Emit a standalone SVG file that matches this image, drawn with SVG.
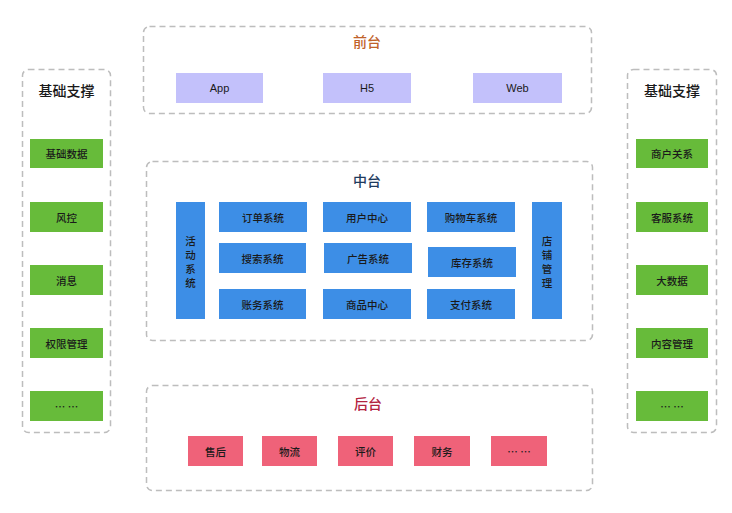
<svg xmlns="http://www.w3.org/2000/svg" width="732" height="513" viewBox="0 0 732 513">
<style>
.frame{fill:none;stroke:#bdbdbd;stroke-width:1.5;stroke-dasharray:6 4}
.t{font-family:"Noto Sans CJK SC","Liberation Sans",sans-serif;text-anchor:middle;dominant-baseline:central}
.title{font-size:14px;font-weight:500}
.lbl{font-size:10.5px;fill:#1a1a1a;font-weight:500}
.lat{font-family:"Liberation Sans","Noto Sans CJK SC",sans-serif;font-size:11px;fill:#1a1a1a}
.pur{fill:#c3c1fb}
.blu{fill:#3d8ee6}
.grn{fill:#67bb3a}
.pnk{fill:#ef6279}
</style>
<rect width="732" height="513" fill="#ffffff"/>
<g id="frontend">
<rect class="frame" x="143.5" y="26.5" width="448" height="87" rx="6"/>
<text class="t title" x="367" y="41" fill="#c0622a">前台</text>
<g id="app"><rect class="pur" x="176" y="73" width="87" height="30"/><text class="t lat" x="219.5" y="88">App</text></g>
<g id="h5"><rect class="pur" x="323" y="73" width="88" height="30"/><text class="t lat" x="367" y="88">H5</text></g>
<g id="web"><rect class="pur" x="473" y="73" width="89" height="30"/><text class="t lat" x="517.5" y="88">Web</text></g>
</g>
<g id="middle">
<rect class="frame" x="146.5" y="161.5" width="446" height="179" rx="6"/>
<text class="t title" x="367" y="180" fill="#1f3b5e">中台</text>
<g id="huodong"><rect class="blu" x="176" y="202" width="29" height="117"/>
<text class="t lbl" x="190.5" y="240">活</text><text class="t lbl" x="190.5" y="254">动</text><text class="t lbl" x="190.5" y="268">系</text><text class="t lbl" x="190.5" y="282">统</text></g>
<g id="dingdan"><rect class="blu" x="219" y="202" width="88" height="30"/><text class="t lbl" x="263" y="217">订单系统</text></g>
<g id="yonghu"><rect class="blu" x="323" y="202" width="88" height="30"/><text class="t lbl" x="367" y="217">用户中心</text></g>
<g id="gouwuche"><rect class="blu" x="427" y="202" width="88" height="30"/><text class="t lbl" x="471" y="217">购物车系统</text></g>
<g id="dianpu"><rect class="blu" x="532" y="202" width="30" height="117"/>
<text class="t lbl" x="547" y="240">店</text><text class="t lbl" x="547" y="254">铺</text><text class="t lbl" x="547" y="268">管</text><text class="t lbl" x="547" y="282">理</text></g>
<g id="sousuo"><rect class="blu" x="219" y="243" width="87" height="30"/><text class="t lbl" x="262.5" y="258">搜索系统</text></g>
<g id="guanggao"><rect class="blu" x="324" y="243" width="88" height="30"/><text class="t lbl" x="368" y="258">广告系统</text></g>
<g id="kucun"><rect class="blu" x="428" y="247" width="88" height="30"/><text class="t lbl" x="472" y="262">库存系统</text></g>
<g id="zhangwu"><rect class="blu" x="219" y="289" width="87" height="30"/><text class="t lbl" x="262.5" y="304">账务系统</text></g>
<g id="shangpin"><rect class="blu" x="323" y="289" width="88" height="30"/><text class="t lbl" x="367" y="304">商品中心</text></g>
<g id="zhifu"><rect class="blu" x="427" y="289" width="88" height="30"/><text class="t lbl" x="471" y="304">支付系统</text></g>
</g>
<g id="backend">
<rect class="frame" x="146.5" y="385.5" width="446" height="105" rx="6"/>
<text class="t title" x="368" y="403" fill="#b3223f">后台</text>
<g id="shouhou"><rect class="pnk" x="188" y="436" width="55" height="30"/><text class="t lbl" x="215.5" y="451">售后</text></g>
<g id="wuliu"><rect class="pnk" x="262" y="436" width="55" height="30"/><text class="t lbl" x="289.5" y="451">物流</text></g>
<g id="pingjia"><rect class="pnk" x="338" y="436" width="55" height="30"/><text class="t lbl" x="365.5" y="451">评价</text></g>
<g id="caiwu"><rect class="pnk" x="414" y="436" width="56" height="30"/><text class="t lbl" x="442" y="451">财务</text></g>
<g id="more-back"><rect class="pnk" x="491" y="436" width="56" height="30"/><text class="t lbl" x="519" y="451">… …</text></g>
</g>
<g id="left-support">
<rect class="frame" x="22.5" y="69.5" width="88" height="363" rx="6"/>
<text class="t title" x="66.5" y="90" fill="#1a1a1a">基础支撑</text>
<g id="jichushuju"><rect class="grn" x="30" y="139" width="73" height="29"/><text class="t lbl" x="66.5" y="153.5">基础数据</text></g>
<g id="fengkong"><rect class="grn" x="30" y="202" width="73" height="30"/><text class="t lbl" x="66.5" y="217">风控</text></g>
<g id="xiaoxi"><rect class="grn" x="30" y="265" width="73" height="30"/><text class="t lbl" x="66.5" y="280">消息</text></g>
<g id="quanxian"><rect class="grn" x="30" y="328" width="73" height="30"/><text class="t lbl" x="66.5" y="343">权限管理</text></g>
<g id="more-left"><rect class="grn" x="30" y="391" width="73" height="30"/><text class="t lbl" x="66.5" y="406">… …</text></g>
</g>
<g id="right-support">
<rect class="frame" x="627.5" y="69.5" width="89" height="363" rx="6"/>
<text class="t title" x="672" y="90" fill="#1a1a1a">基础支撑</text>
<g id="shanghu"><rect class="grn" x="636" y="139" width="72" height="29"/><text class="t lbl" x="672" y="153.5">商户关系</text></g>
<g id="kefu"><rect class="grn" x="636" y="202" width="72" height="30"/><text class="t lbl" x="672" y="217">客服系统</text></g>
<g id="dashuju"><rect class="grn" x="636" y="265" width="72" height="30"/><text class="t lbl" x="672" y="280">大数据</text></g>
<g id="neirong"><rect class="grn" x="636" y="328" width="72" height="30"/><text class="t lbl" x="672" y="343">内容管理</text></g>
<g id="more-right"><rect class="grn" x="636" y="391" width="72" height="30"/><text class="t lbl" x="672" y="406">… …</text></g>
</g>
<g id="connectors"></g>
</svg>
